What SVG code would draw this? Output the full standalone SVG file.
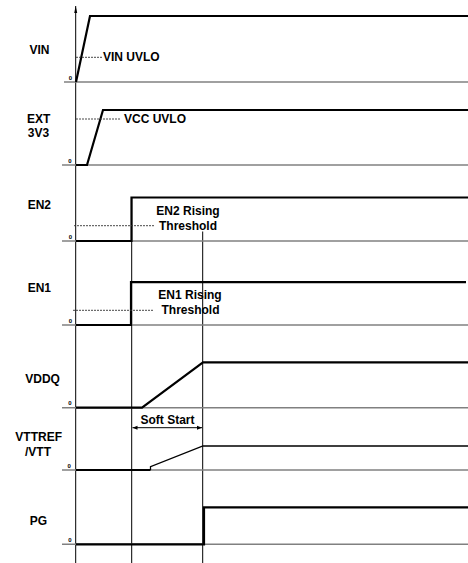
<svg xmlns="http://www.w3.org/2000/svg" width="468" height="563" viewBox="0 0 468 563">
<defs>
<marker id="ah" markerWidth="6" markerHeight="6" refX="5" refY="3" orient="auto-start-reverse" markerUnits="userSpaceOnUse"><path d="M0,1 L5,3 L0,5 Z" fill="#000"/></marker>
<marker id="axarrow" markerWidth="6" markerHeight="8" refX="3" refY="0" orient="0" markerUnits="userSpaceOnUse"><path d="M1.5,7 L3,0 L4.5,7 Z" fill="#000"/></marker>
</defs>
<style>
.lbl{font-family:"Liberation Sans",Arial,sans-serif;font-weight:bold;font-size:12px;fill:#000}
.mid{text-anchor:middle}
.zero{font-family:"Liberation Sans",Arial,sans-serif;font-weight:bold;font-size:6px;text-anchor:end;fill:#000}
.base{stroke:#808080;stroke-width:1.4;fill:none}
.wave{stroke:#000;stroke-width:2.2;fill:none}
.thinwave{stroke:#000;stroke-width:1.3;fill:none}
.thin{stroke:#000;stroke-width:1;fill:none}
.dash{stroke:#333;stroke-width:0.9;stroke-dasharray:2 1;fill:none}
</style>
<rect width="468" height="563" fill="#fff"/>

<g id="connectors">
<path class="thin" d="M75.7,563 V6" marker-end="url(#axarrow)"/>
<path class="thin" d="M131.7,197.5 V563"/>
<path class="thin" d="M202.7,231.5 V563"/>
<path class="thin" d="M132.5,427.7 H202" marker-start="url(#ah)" marker-end="url(#ah)"/>
<text class="lbl mid" x="167.5" y="424.3">Soft Start</text>
</g>

<g id="vin">
<path class="base" d="M64,82 H468"/>
<path class="wave" d="M76,82 L90,16 H468"/>
<path class="dash" d="M76,57.3 H102"/>
<text class="lbl" x="103" y="61.3">VIN UVLO</text>
<text class="lbl mid" x="39.5" y="54">VIN</text>
<text class="zero" x="72" y="80">0</text>
</g>

<g id="ext3v3">
<path class="base" d="M62,165 H468"/>
<path class="wave" d="M76,165 H87 L103,110 H468"/>
<path class="dash" d="M76,119 H120"/>
<text class="lbl" x="124" y="123">VCC UVLO</text>
<text class="lbl mid" x="38.6" y="122.5">EXT</text>
<text class="lbl mid" x="38.4" y="136.5">3V3</text>
<text class="zero" x="71.7" y="163">0</text>
</g>

<g id="en2">
<path class="base" d="M62,241 H468"/>
<path class="wave" d="M76,241 H131.5 V197.5 H468"/>
<path class="dash" d="M74,225.7 H154"/>
<text class="lbl mid" x="188" y="215">EN2 Rising</text>
<text class="lbl mid" x="188" y="229.8">Threshold</text>
<text class="lbl mid" x="39.3" y="209">EN2</text>
<text class="zero" x="72" y="239.3">0</text>
</g>

<g id="en1">
<path class="base" d="M62,325 H468"/>
<path class="wave" d="M76,325 H131 V282.2 H466"/>
<path class="dash" d="M73,310.3 H153"/>
<text class="lbl mid" x="190" y="299.3">EN1 Rising</text>
<text class="lbl mid" x="190.5" y="313.7">Threshold</text>
<text class="lbl mid" x="39.3" y="292">EN1</text>
<text class="zero" x="72" y="323.3">0</text>
</g>

<g id="vddq">
<path class="base" d="M62,407.7 H468"/>
<path class="wave" d="M76,407.7 H142 L203,362.3 H468"/>
<text class="lbl mid" x="42.6" y="382.7">VDDQ</text>
<text class="zero" x="71.7" y="405">0</text>
</g>

<g id="vttref">
<path class="base" d="M62,470 H468"/>
<path class="wave" d="M76,470 H150.5"/>
<path class="thinwave" d="M150.5,470 V466.7 L203,446 H468"/>
<text class="lbl mid" x="38.7" y="440.7">VTTREF</text>
<text class="lbl mid" x="38" y="455.7">/VTT</text>
<text class="zero" x="70.8" y="468.3">0</text>
</g>

<g id="pg">
<path class="base" d="M62,544.3 H468"/>
<path class="wave" d="M76,544.3 H204 V507.3 H468"/>
<text class="lbl mid" x="38.3" y="524.5">PG</text>
<text class="zero" x="71.7" y="542.3">0</text>
</g>
</svg>
